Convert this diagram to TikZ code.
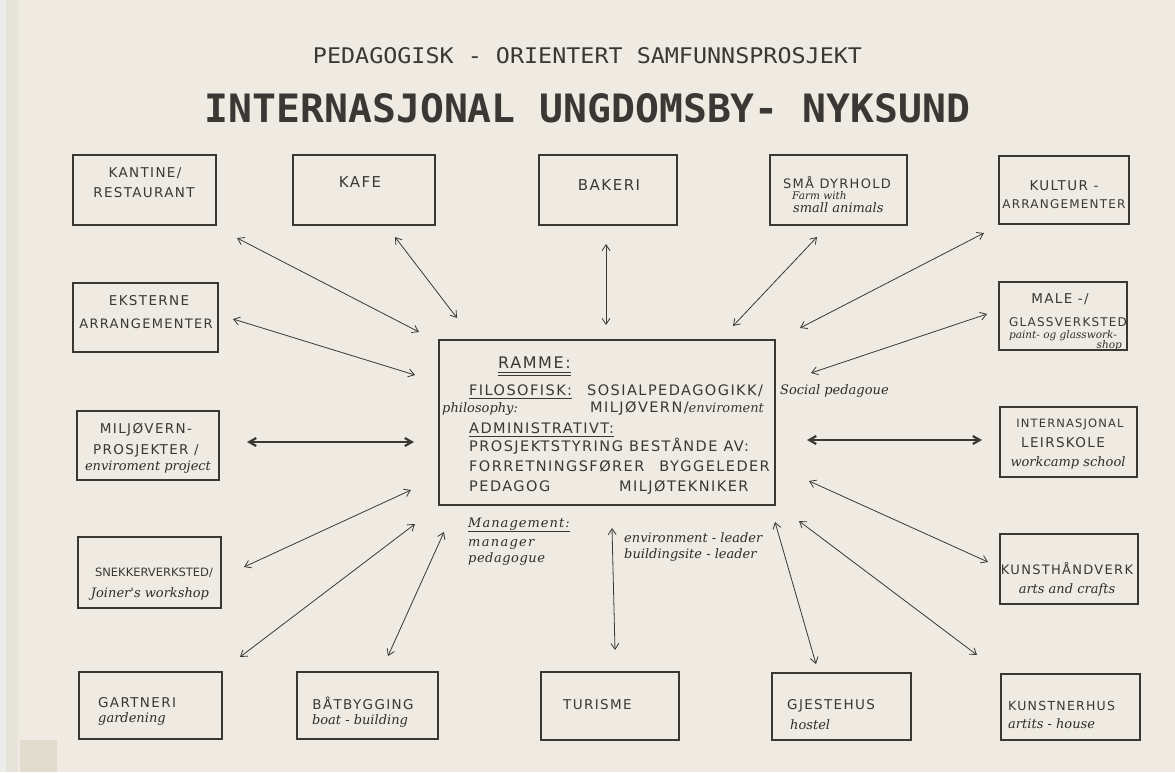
\documentclass[tikz,border=0pt]{standalone}
\usepackage{fontspec}
\newfontfamily\capsfont[LetterSpace=10]{DejaVu Sans}
\newfontfamily\monofont{DejaVu Sans Mono}
\newfontfamily\handfont{DejaVu Serif}
\usetikzlibrary{arrows.meta}
\definecolor{paper}{HTML}{EFEBE2}
\definecolor{paperedge}{HTML}{E6E3DA}
\definecolor{paperlight}{HTML}{ECEDEA}
\definecolor{patch}{HTML}{E2DCCF}
\definecolor{ink}{HTML}{3A3835}
\newcommand{\fs}[1]{\fontsize{#1}{#1}\selectfont}
\begin{document}
\begin{tikzpicture}[x=1pt,y=-1pt,
  box/.style={draw=ink, line width=1.2pt, inner sep=0pt},
  heavybox/.style={draw=ink, line width=2.8pt, inner sep=0pt},
  captext/.style={font=\capsfont\fontsize{13.5}{15}\selectfont, text=ink, inner sep=0pt},
  midcap/.style={font=\capsfont\fontsize{14.5}{16}\selectfont, text=ink, inner sep=0pt},
  hand/.style={font=\handfont\itshape\fontsize{13}{15}\selectfont, text=ink!80!black, inner sep=0pt},
  smallhand/.style={font=\handfont\itshape\fontsize{10.5}{12}\selectfont, text=ink!80!black, inner sep=0pt},
  link/.style={draw=ink, line width=0.8pt, {Straight Barb[length=6pt,width=8pt]}-{Straight Barb[length=6pt,width=8pt]}},
  heavylink/.style={draw=ink, line width=2.2pt, {Straight Barb[length=7pt,width=8pt]}-{Straight Barb[length=7pt,width=8pt]}},
  uline/.style={draw=ink, line width=0.8pt}]
\useasboundingbox (0,0) rectangle (1175,772);
\fill[paper] (0,0) rectangle (1175,772);
\fill[paperedge] (6,0) rectangle (18,772);
\fill[paperlight] (0,0) rectangle (6,772);
\fill[patch] (20,740) rectangle (57,772);

% titles
\node[anchor=base, text=ink, inner sep=0pt] (sub) at (587.5,63)
  {\resizebox{549pt}{16pt}{\monofont PEDAGOGISK - ORIENTERT SAMFUNNSPROSJEKT}};
\node[anchor=base, text=ink, inner sep=0pt] (title) at (587.5,122)
  {\resizebox{765pt}{29pt}{\monofont\bfseries INTERNASJONAL UNGDOMSBY- NYKSUND}};

% boxes
\node[box, minimum width=143pt, minimum height=70pt] (kantine) at (144.5,190) {};
\node[box, minimum width=142pt, minimum height=70pt] (kafe) at (364,190) {};
\node[box, minimum width=138pt, minimum height=70pt] (bakeri) at (608,190) {};
\node[box, minimum width=137pt, minimum height=70pt] (smaa) at (838.5,190) {};
\node[box, minimum width=130pt, minimum height=68pt] (kultur) at (1064,190) {};
\node[box, minimum width=145pt, minimum height=69pt] (eksterne) at (145.5,317.5) {};
\node[box, minimum width=128pt, minimum height=68pt] (male) at (1063,316) {};
\node[heavybox, minimum width=142pt, minimum height=69pt] (miljo) at (148,445.5) {};
\node[heavybox, minimum width=137pt, minimum height=70pt] (intl) at (1068.5,442) {};
\node[box, minimum width=143pt, minimum height=71pt] (snekker) at (149.5,572.5) {};
\node[box, minimum width=138pt, minimum height=70pt] (kunsth) at (1069,569) {};
\node[box, minimum width=143pt, minimum height=67pt] (gartneri) at (150.5,705.5) {};
\node[box, minimum width=141pt, minimum height=67pt] (baat) at (367.5,705.5) {};
\node[box, minimum width=138pt, minimum height=68pt] (turisme) at (610,706) {};
\node[box, minimum width=139pt, minimum height=67pt] (gjeste) at (841.5,706.5) {};
\node[box, minimum width=139pt, minimum height=66pt] (kunstner) at (1070.5,707) {};
\node[box, minimum width=336pt, minimum height=165pt] (centre) at (607,422.5) {};

% box texts
\node[captext, anchor=base] (t1a) at (145,177) {KANTINE/};
\node[captext, anchor=base] (t1b) at (144,197) {RESTAURANT};
\node[captext, anchor=base] (t2) at (360,187) {\fs{15}KAFE};
\node[captext, anchor=base] (t3) at (609,190) {\fs{15}BAKERI};
\node[captext, anchor=base] (t4a) at (837,188) {\fs{13}SMÅ DYRHOLD};
\node[smallhand, anchor=base west] (t4b) at (792,199) {Farm with};
\node[hand, anchor=base west] (t4c) at (793,212) {small animals};
\node[captext, anchor=base] (t5a) at (1064,190) {KULTUR -};
\node[captext, anchor=base] (t5b) at (1064,208) {\fs{12}ARRANGEMENTER};
\node[captext, anchor=base] (t6a) at (149,305) {EKSTERNE};
\node[captext, anchor=base] (t6b) at (146,328) {\fs{13}ARRANGEMENTER};
\node[captext, anchor=base] (t7a) at (1060,303) {MALE -/};
\node[captext, anchor=base] (t7b) at (1068,326) {\fs{12}GLASSVERKSTED};
\node[smallhand, anchor=base] (t7c) at (1063,338) {paint- og glasswork-};
\node[smallhand, anchor=base east] (t7d) at (1122,348) {shop};
\node[captext, anchor=base] (t8a) at (146,433) {MILJØVERN-};
\node[captext, anchor=base] (t8b) at (146,454) {PROSJEKTER /};
\node[hand, anchor=base] (t8c) at (148,470) {enviroment project};
\node[captext, anchor=base] (t9a) at (1070,427) {\fs{11.5}INTERNASJONAL};
\node[captext, anchor=base] (t9b) at (1063,447) {LEIRSKOLE};
\node[hand, anchor=base] (t9c) at (1068,466) {workcamp school};
\node[captext, anchor=base] (t10a) at (154,576) {\fs{11.5}\addfontfeature{LetterSpace=0}SNEKKERVERKSTED/};
\node[hand, anchor=base] (t10b) at (150,597) {Joiner's workshop};
\node[captext, anchor=base] (t11a) at (1067,574) {\fs{13}KUNSTHÅNDVERK};
\node[hand, anchor=base] (t11b) at (1067,593) {arts and crafts};
\node[captext, anchor=base west] (t12a) at (98,707) {GARTNERI};
\node[hand, anchor=base west] (t12b) at (98,722) {gardening};
\node[captext, anchor=base] (t13a) at (363,709) {BÅTBYGGING};
\node[hand, anchor=base] (t13b) at (360,724) {boat - building};
\node[captext, anchor=base west] (t14) at (563,709) {TURISME};
\node[captext, anchor=base west] (t15a) at (787,709) {GJESTEHUS};
\node[hand, anchor=base west] (t15b) at (790,729) {hostel};
\node[captext, anchor=base west] (t16a) at (1008,710) {\fs{12.5}KUNSTNERHUS};
\node[hand, anchor=base west] (t16b) at (1008,728) {artits - house};

% centre texts
\node[midcap, anchor=base west] (ramme) at (498,368) {\fs{16}RAMME:};
\node[midcap, anchor=base west] (filo) at (469,395) {FILOSOFISK:};
\node[midcap, anchor=base west] (sosial) at (587,395) {SOSIALPEDAGOGIKK/};
\node[hand, anchor=base west] (socped) at (780,394) {Social pedagoue};
\node[hand, anchor=base west] (philo) at (442,412) {philosophy:};
\node[midcap, anchor=base west] (miljovern) at (590,412) {MILJØVERN/{\handfont\itshape\fs{13}enviroment}};
\node[midcap, anchor=base west] (admin) at (469,433) {ADMINISTRATIVT:};
\node[midcap, anchor=base west] (prosj) at (469,451) {PROSJEKTSTYRING BESTÅNDE AV:};
\node[midcap, anchor=base west] (forr) at (469,471) {FORRETNINGSFØRER};
\node[midcap, anchor=base east] (bygg) at (770,471) {BYGGELEDER};
\node[midcap, anchor=base west] (ped) at (469,491) {PEDAGOG};
\node[midcap, anchor=base west] (miltek) at (619,491) {MILJØTEKNIKER};
\node[hand, anchor=base west] (manag) at (468,527) {\addfontfeature{LetterSpace=8}Management:};
\node[hand, anchor=base west] (manager) at (468,546) {\addfontfeature{LetterSpace=10}manager};
\node[hand, anchor=base west] (pedag) at (468,562) {\addfontfeature{LetterSpace=4}pedagogue};
\node[hand, anchor=base west] (envlead) at (624,542) {environment - leader};
\node[hand, anchor=base west] (buildlead) at (624,558) {buildingsite - leader};

% underlines
\draw[uline] ([yshift=-4pt]ramme.base west) -- ([yshift=-4pt]ramme.base east);
\draw[uline] ([yshift=-7pt]ramme.base west) -- ([yshift=-7pt]ramme.base east);
\draw[uline] ([yshift=-3pt]filo.base west) -- ([yshift=-3pt]filo.base east);
\draw[uline] ([yshift=-3pt]admin.base west) -- ([yshift=-3pt]admin.base east);
\draw[uline] ([yshift=-4pt]manag.base west) -- ([yshift=-4pt]manag.base east);

% connector end points
\coordinate (a1) at (237,238);  \coordinate (b1) at (419,332);
\coordinate (a2) at (395,237);  \coordinate (b2) at (457,318);
\coordinate (a3) at (606,244);  \coordinate (b3) at (606,325);
\coordinate (a4) at (817,237);  \coordinate (b4) at (733,326);
\coordinate (a5) at (984,233);  \coordinate (b5) at (800,328);
\coordinate (a6) at (987,314);  \coordinate (b6) at (811,373);
\coordinate (a7) at (233,319);  \coordinate (b7) at (415,375);
\coordinate (a8) at (247,442);  \coordinate (b8) at (414,442);
\coordinate (a9) at (807,440);  \coordinate (b9) at (982,440);
\coordinate (a10) at (244,567); \coordinate (b10) at (411,490);
\coordinate (a11) at (240,657); \coordinate (b11) at (415,524);
\coordinate (a12) at (388,656); \coordinate (b12) at (444,532);
\coordinate (a13) at (612,528); \coordinate (b13) at (615,650);
\coordinate (a14) at (775,522); \coordinate (b14) at (816,664);
\coordinate (a15) at (809,481); \coordinate (b15) at (988,562);
\coordinate (a16) at (799,521); \coordinate (b16) at (977,655);

\draw[link] (a1) -- (b1);
\draw[link] (a2) -- (b2);
\draw[link] (a3) -- (b3);
\draw[link] (a4) -- (b4);
\draw[link] (a5) -- (b5);
\draw[link] (a6) -- (b6);
\draw[link] (a7) -- (b7);
\draw[heavylink] (a8) -- (b8);
\draw[heavylink] (a9) -- (b9);
\draw[link] (a10) -- (b10);
\draw[link] (a11) -- (b11);
\draw[link] (a12) -- (b12);
\draw[link] (a13) -- (b13);
\draw[link] (a14) -- (b14);
\draw[link] (a15) -- (b15);
\draw[link] (a16) -- (b16);
\end{tikzpicture}
\end{document}
